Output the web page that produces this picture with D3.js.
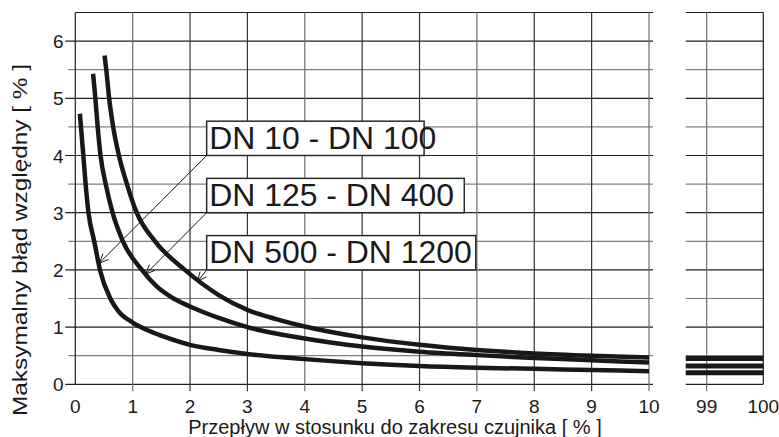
<!DOCTYPE html>
<html>
<head>
<meta charset="utf-8">
<script src="https://cdn.jsdelivr.net/npm/d3@7"></script>
<style>
  html, body { margin: 0; padding: 0; background: #fff; }
  svg { display: block; font-family: Arial, "Liberation Sans", Helvetica, sans-serif; }
</style>
</head>
<body>
<svg id="chart" width="779" height="437"></svg>
<script>
// Flow as % of sensor range (x) and maximum relative error in % (y), one pair per size group
const seriesNames = ["DN 10 - DN 100", "DN 125 - DN 400", "DN 500 - DN 1200"];

const flowSmall = [0.08, 0.14, 0.18, 0.23, 0.33, 0.43, 0.61, 0.75, 1.0, 1.25, 1.5, 2.0, 2.5, 3.0, 4.0, 5.0, 6.0, 7.0, 8.0, 9.0, 10.0];
const errSmall  = [4.73, 4.0, 3.5, 3.0, 2.5, 2.0, 1.5, 1.28, 1.08, 0.95, 0.85, 0.69, 0.60, 0.53, 0.44, 0.37, 0.32, 0.29, 0.27, 0.25, 0.23];

const flowMid = [0.31, 0.35, 0.39, 0.44, 0.53, 0.65, 0.83, 1.16, 1.4, 1.68, 2.0, 2.5, 3.0, 4.0, 5.0, 6.0, 7.0, 8.0, 9.0, 10.0];
const errMid  = [5.43, 5.0, 4.5, 4.0, 3.5, 3.0, 2.5, 2.0, 1.73, 1.52, 1.36, 1.16, 1.0, 0.80, 0.66, 0.57, 0.51, 0.46, 0.42, 0.38];

const flowLarge = [0.51, 0.54, 0.59, 0.66, 0.76, 0.90, 1.07, 1.39, 1.91, 2.5, 3.0, 3.5, 4.0, 5.0, 6.0, 7.0, 8.0, 9.0, 10.0];
const errLarge  = [5.75, 5.5, 5.0, 4.5, 4.0, 3.5, 3.0, 2.5, 2.0, 1.56, 1.30, 1.14, 1.01, 0.82, 0.69, 0.60, 0.54, 0.50, 0.47];

// Error level near full scale (99–100 %)
const errFullScale = [0.20, 0.32, 0.45];

// Tick values
const xTicksLow  = [0, 1, 2, 3, 4, 5, 6, 7, 8, 9, 10];
const xTicksHigh = [99, 100];
const yTicks     = [0, 1, 2, 3, 4, 5, 6];

// Callout boxes: lower-left corner (flow, error) and the point each arrow marks
const calloutCorner = [[2.29, 4.0], [2.29, 3.0], [2.29, 2.0]];
const calloutHeight = [0.6, 0.6, 0.6];
const calloutWidth  = [3.79, 4.49, 4.69];
const arrowTarget   = [[0.42, 2.12], [1.23, 1.93], [2.13, 1.80]];

const xTitle = "Przepływ w stosunku do zakresu czujnika [ % ]";
const yTitle = "Maksymalny błąd względny [ % ]";

// ---- scales ----
const x  = d3.scaleLinear().domain([0, 10]).range([75.3, 649]);
const x2 = d3.scaleLinear().domain([98.63, 100]).range([685.7, 763.3]);
const y  = d3.scaleLinear().domain([0, 6.5]).range([384.3, 12.5]);

const svg = d3.select("#chart");
const ink = "#1b1714";

// ---- grid: horizontal lines every 0.5 ----
const halfSteps = d3.range(0, 6.51, 0.5);
const isInt = v => Math.abs(v - Math.round(v)) < 1e-6;
const gridColor = v => (isInt(v) ? "#1e1e1e" : "#808080");

const grid = svg.append("g");
grid.selectAll("line.hl")
  .data(halfSteps)
  .join("line")
  .attr("x1", d => (d === 6.5 ? x(0) : x(0) - (isInt(d) ? 10 : 7)))
  .attr("x2", x(10) + 4)
  .attr("y1", d => y(d)).attr("y2", d => y(d))
  .attr("stroke", d => (d === 0 || d === 6.5 ? "#1e1e1e" : gridColor(d)))
  .attr("stroke-width", 1.2);

grid.selectAll("line.hr")
  .data(halfSteps)
  .join("line")
  .attr("x1", x2.range()[0]).attr("x2", x2.range()[1])
  .attr("y1", d => y(d)).attr("y2", d => y(d))
  .attr("stroke", d => (d === 0 || d === 6.5 ? "#1e1e1e" : gridColor(d)))
  .attr("stroke-width", 1.2);

// vertical lines
grid.selectAll("line.vl")
  .data(xTicksLow)
  .join("line")
  .attr("x1", d => x(d)).attr("x2", d => x(d))
  .attr("y1", y(6.5)).attr("y2", d => (d === 0 ? y(0) : y(0) + 7))
  .attr("stroke", d => (d === 0 ? "#1e1e1e" : (d % 3 === 1 ? "#6e6e6e" : "#333")))
  .attr("stroke-width", 1.2);

grid.selectAll("line.vr")
  .data(xTicksHigh)
  .join("line")
  .attr("x1", d => x2(d)).attr("x2", d => x2(d))
  .attr("y1", y(6.5)).attr("y2", d => (d === 100 ? y(0) : y(0) + 7))
  .attr("stroke", d => (d === 100 ? "#1e1e1e" : "#6e6e6e"))
  .attr("stroke-width", 1.2);

// ---- tick labels ----
const labels = svg.append("g").attr("fill", "#1a1a1a").attr("font-size", 19);
labels.selectAll("text.xl")
  .data(xTicksLow)
  .join("text")
  .attr("x", d => x(d)).attr("y", 413)
  .attr("text-anchor", "middle")
  .text(d => d);
labels.selectAll("text.xr")
  .data(xTicksHigh)
  .join("text")
  .attr("x", d => x2(d)).attr("y", 413)
  .attr("text-anchor", "middle")
  .text(d => d);
labels.selectAll("text.yl")
  .data(yTicks)
  .join("text")
  .attr("x", 63.5).attr("y", d => y(d) + 7)
  .attr("text-anchor", "end")
  .text(d => d);

// axis titles
svg.append("text")
  .attr("x", 395).attr("y", 433.5)
  .attr("text-anchor", "middle")
  .attr("font-size", 20)
  .attr("fill", "#1a1a1a")
  .text(xTitle);

svg.append("text")
  .attr("transform", "translate(27,240) rotate(-90)")
  .attr("text-anchor", "middle")
  .attr("font-size", 20)
  .attr("textLength", 352)
  .attr("lengthAdjust", "spacingAndGlyphs")
  .attr("fill", "#1a1a1a")
  .text(yTitle);

// ---- curves ----
const seriesPts = [
  d3.zip(flowSmall, errSmall),
  d3.zip(flowMid, errMid),
  d3.zip(flowLarge, errLarge)
];
const line = d3.line()
  .x(d => x(d[0]))
  .y(d => y(d[1]))
  .curve(d3.curveMonotoneX);

svg.append("g").selectAll("path")
  .data(seriesPts)
  .join("path")
  .attr("d", line)
  .attr("fill", "none")
  .attr("stroke", ink)
  .attr("stroke-width", 4.5);

// full-scale segments
svg.append("g").selectAll("line")
  .data(errFullScale)
  .join("line")
  .attr("x1", x2.range()[0]).attr("x2", x2.range()[1])
  .attr("y1", d => y(d)).attr("y2", d => y(d))
  .attr("stroke", ink)
  .attr("stroke-width", 5);

// ---- callouts with arrows ----
const callouts = seriesNames.map((name, i) => ({
  name,
  corner: calloutCorner[i],
  h: calloutHeight[i],
  w: calloutWidth[i],
  target: arrowTarget[i]
}));

const cg = svg.append("g");
callouts.forEach(c => {
  const x0 = x(c.corner[0]), y0 = y(c.corner[1]);
  const tx = x(c.target[0]), ty = y(c.target[1]);
  // leader line
  cg.append("line")
    .attr("x1", x0).attr("y1", y0)
    .attr("x2", tx).attr("y2", ty)
    .attr("stroke", ink).attr("stroke-width", 1);
  // open arrow head
  const ang = Math.atan2(ty - y0, tx - x0);
  const len = 10, spread = 0.42;
  const p1 = [tx - len * Math.cos(ang - spread), ty - len * Math.sin(ang - spread)];
  const p2 = [tx - len * Math.cos(ang + spread), ty - len * Math.sin(ang + spread)];
  cg.append("path")
    .attr("d", `M${p1[0]},${p1[1]}L${tx},${ty}L${p2[0]},${p2[1]}`)
    .attr("fill", "none").attr("stroke", ink).attr("stroke-width", 1);
});
callouts.forEach(c => {
  const x0 = x(c.corner[0]), y0 = y(c.corner[1]);
  const yt = y(c.corner[1] + c.h);
  const xr = x(c.corner[0] + c.w);
  cg.append("rect")
    .attr("x", x0).attr("y", yt)
    .attr("width", xr - x0).attr("height", y0 - yt)
    .attr("fill", "#fff")
    .attr("stroke", "#2a2a2a").attr("stroke-width", 1.5);
  const t = cg.append("text")
    .attr("x", x0 + 2.5).attr("y", y0 - 6.5)
    .attr("font-size", 31)
    .attr("fill", "#1a1a1a")
    .text(c.name);
  // the label face runs slightly wide
  const natural = t.node().getComputedTextLength();
  t.attr("textLength", natural * 1.03).attr("lengthAdjust", "spacingAndGlyphs");
});
</script>
</body>
</html>
